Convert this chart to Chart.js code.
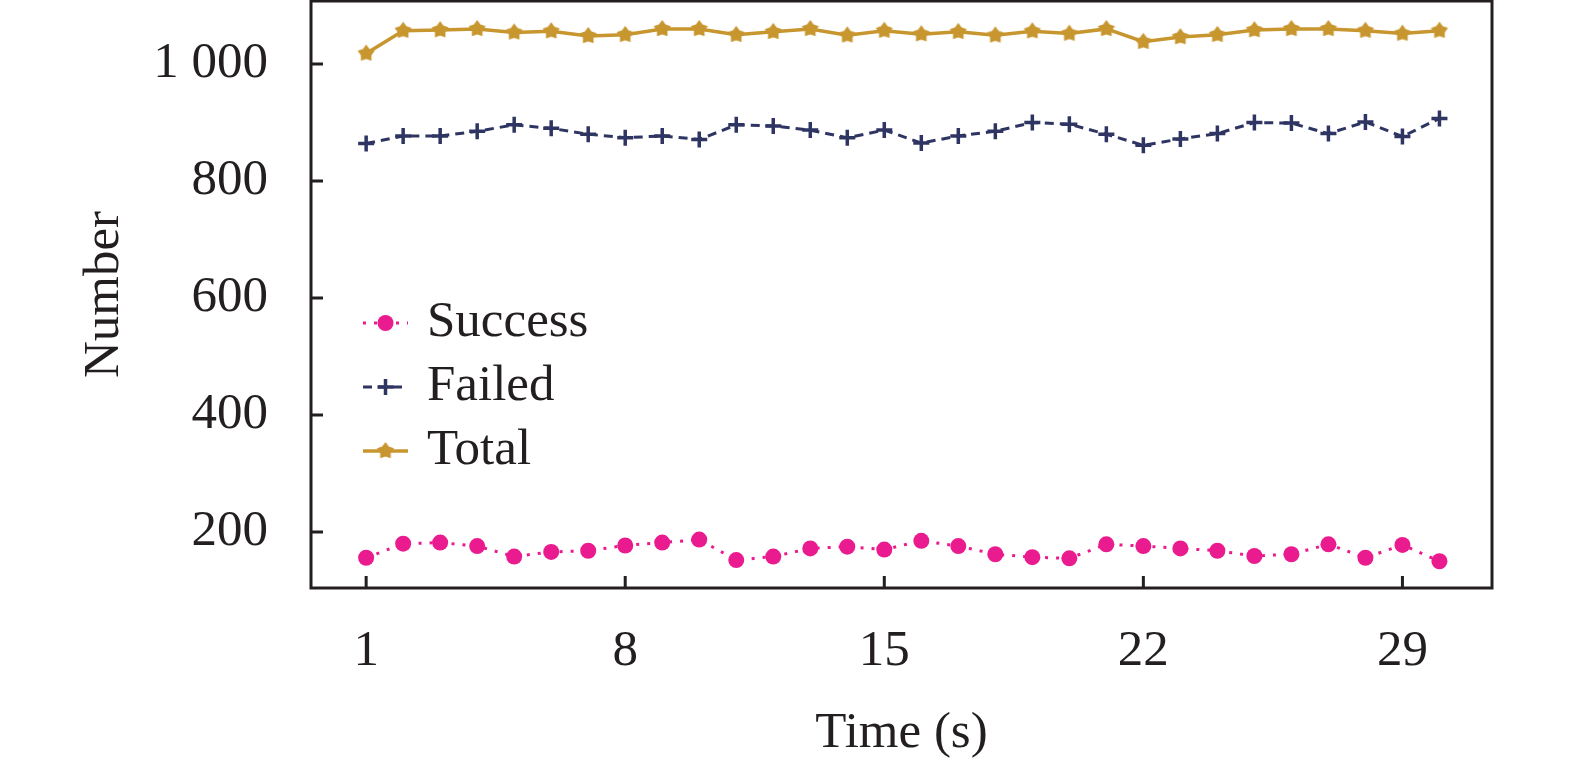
<!DOCTYPE html>
<html>
<head>
<meta charset="utf-8">
<script src="https://cdn.jsdelivr.net/npm/chart.js@4.4.1/dist/chart.umd.min.js"></script>
<style>
  html, body { margin: 0; padding: 0; background: #fff; }
  #wrap { width: 1575px; height: 768px; }
</style>
</head>
<body>
<div id="wrap"><canvas id="chart" width="1575" height="768"></canvas></div>
<script>
// Data
const times = [1, 2, 3, 4, 5, 6, 7, 8, 9, 10, 11, 12, 13, 14, 15,
               16, 17, 18, 19, 20, 21, 22, 23, 24, 25, 26, 27, 28, 29, 30];
const success = [156, 180, 182, 176, 158, 166, 168, 177, 182, 187, 152, 158, 172, 175, 170,
                 185, 176, 162, 157, 155, 179, 176, 172, 168, 159, 162, 179, 156, 178, 150];
const failed = [864, 877, 877, 885, 896, 890, 880, 874, 877, 871, 896, 894, 887, 874, 887,
                865, 877, 885, 900, 897, 880, 861, 872, 881, 900, 899, 881, 901, 876, 907];
const total = [1018, 1057, 1058, 1060, 1054, 1056, 1048, 1050, 1060, 1060, 1050, 1055, 1060, 1049, 1057,
               1051, 1055, 1049, 1056, 1052, 1060, 1038, 1046, 1050, 1058, 1060, 1060, 1057, 1052, 1057];
const seriesNames = ['Success', 'Failed', 'Total'];
const xTicks = [1, 8, 15, 22, 29];
const yTicks = [200, 400, 600, 800, 1000];
const yTickLabels = ['200', '400', '600', '800', '1 000'];

const FONT = 'Liberation Serif';
const INK = '#231f20';
const PINK = '#ea1b8e';
const NAVY = '#2e3562';
const GOLD = '#c8962f';

// filled five point star marker
function makeStar(r, color) {
  const c = document.createElement('canvas');
  c.width = c.height = r * 2 + 2;
  const g = c.getContext('2d');
  g.fillStyle = color;
  g.beginPath();
  for (let i = 0; i < 10; i++) {
    const rad = i % 2 === 0 ? r : r * 0.62;
    const a = -Math.PI / 2 + i * Math.PI / 5;
    const px = c.width / 2 + rad * Math.cos(a);
    const py = c.height / 2 + rad * Math.sin(a);
    if (i === 0) g.moveTo(px, py); else g.lineTo(px, py);
  }
  g.closePath();
  g.fill();
  return c;
}
const starImg = makeStar(9, GOLD);

function pts(vals) {
  return vals.map((v, i) => ({ x: times[i], y: v }));
}

// inward ticks, frame and in-plot legend
const framePlugin = {
  id: 'frame',
  afterDraw(chart) {
    const ctx = chart.ctx;
    const a = chart.chartArea;
    const xs = chart.scales.x, ys = chart.scales.y;
    ctx.save();
    ctx.strokeStyle = INK;
    ctx.lineWidth = 3;
    ctx.strokeRect(a.left, a.top, a.right - a.left, a.bottom - a.top);
    ctx.beginPath();
    xTicks.forEach(t => {
      const px = xs.getPixelForValue(t);
      ctx.moveTo(px, a.bottom);
      ctx.lineTo(px, a.bottom - 12);
    });
    yTicks.forEach(t => {
      const py = ys.getPixelForValue(t);
      ctx.moveTo(a.left, py);
      ctx.lineTo(a.left + 12, py);
    });
    ctx.stroke();

    // legend
    const rows = [323, 387, 451];
    chart.data.datasets.forEach((ds, i) => {
      const y = rows[i];
      const x0 = a.left + 52, x1 = a.left + 97, xm = (x0 + x1) / 2;
      ctx.strokeStyle = ds.borderColor;
      ctx.lineWidth = ds.borderWidth;
      ctx.setLineDash(ds.borderDash || []);
      ctx.beginPath();
      ctx.moveTo(x0, y);
      ctx.lineTo(x1, y);
      ctx.stroke();
      ctx.setLineDash([]);
      if (ds.pointStyle === 'circle') {
        ctx.fillStyle = ds.pointBackgroundColor;
        ctx.beginPath();
        ctx.arc(xm, y, ds.pointRadius, 0, Math.PI * 2);
        ctx.fill();
      } else if (ds.pointStyle === 'cross') {
        ctx.strokeStyle = ds.pointBorderColor;
        ctx.lineWidth = ds.pointBorderWidth;
        ctx.beginPath();
        ctx.moveTo(xm - ds.pointRadius, y); ctx.lineTo(xm + ds.pointRadius, y);
        ctx.moveTo(xm, y - ds.pointRadius); ctx.lineTo(xm, y + ds.pointRadius);
        ctx.stroke();
      } else {
        ctx.drawImage(ds.pointStyle, xm - ds.pointStyle.width / 2, y - ds.pointStyle.height / 2);
      }
      ctx.fillStyle = INK;
      ctx.font = '51px "' + FONT + '"';
      ctx.textBaseline = 'middle';
      ctx.textAlign = 'left';
      ctx.fillText(ds.label, a.left + 116, y);
    });
    ctx.restore();
  }
};

new Chart(document.getElementById('chart'), {
  type: 'line',
  data: {
    datasets: [
      {
        label: seriesNames[0],
        data: pts(success),
        borderColor: PINK,
        borderWidth: 3,
        borderDash: [3, 8],
        pointStyle: 'circle',
        pointRadius: 8,
        pointBorderWidth: 0,
        pointBackgroundColor: PINK,
        pointBorderColor: PINK
      },
      {
        label: seriesNames[1],
        data: pts(failed),
        borderColor: NAVY,
        borderWidth: 3,
        borderDash: [9, 6],
        pointStyle: 'cross',
        pointRadius: 8,
        pointBorderWidth: 3.5,
        pointBorderColor: NAVY,
        pointBackgroundColor: NAVY
      },
      {
        label: seriesNames[2],
        data: pts(total),
        borderColor: GOLD,
        borderWidth: 3.5,
        pointStyle: starImg,
        pointRadius: 9,
        pointBackgroundColor: GOLD,
        pointBorderColor: GOLD
      }
    ]
  },
  options: {
    responsive: false,
    animation: false,
    devicePixelRatio: 1,
    layout: { autoPadding: false, padding: { top: 1, right: 83, left: 0, bottom: 0 } },
    plugins: { legend: { display: false }, tooltip: { enabled: false } },
    scales: {
      x: {
        type: 'linear',
        min: -0.49,
        max: 31.42,
        afterBuildTicks: s => { s.ticks = xTicks.map(v => ({ value: v })); },
        afterFit: s => { s.height = 180; s.paddingLeft = 0; s.paddingRight = 0; },
        grid: { display: false, drawTicks: false },
        border: { display: false },
        ticks: {
          padding: 33,
          color: INK,
          font: { family: FONT, size: 51 },
          maxRotation: 0
        },
        title: {
          display: true,
          text: 'Time (s)',
          color: INK,
          font: { family: FONT, size: 51 },
          padding: { top: 0, bottom: 4 }
        }
      },
      y: {
        min: 104.3,
        max: 1107.7,
        afterBuildTicks: s => { s.ticks = yTicks.map(v => ({ value: v })); },
        afterFit: s => { s.width = 311; s.paddingTop = 0; s.paddingBottom = 0; },
        grid: { display: false, drawTicks: false },
        border: { display: false },
        ticks: {
          padding: 43,
          color: INK,
          font: { family: FONT, size: 51 },
          callback: v => yTickLabels[yTicks.indexOf(v)]
        },
        title: {
          display: true,
          text: 'Number',
          color: INK,
          font: { family: FONT, size: 51 },
          padding: { top: 74, bottom: 0 }
        }
      }
    }
  },
  plugins: [framePlugin]
});
</script>
</body>
</html>
